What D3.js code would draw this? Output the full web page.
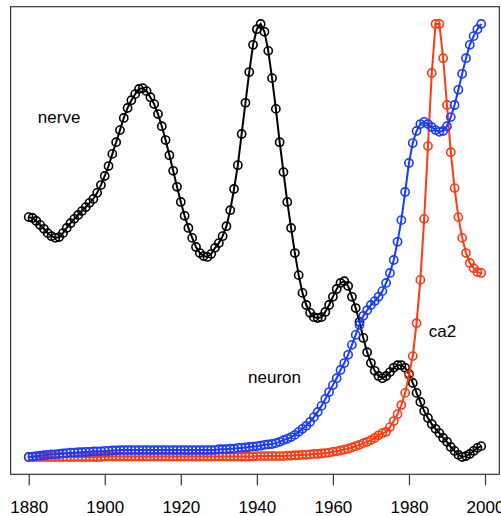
<!DOCTYPE html>
<html>
<head>
<meta charset="utf-8">
<script src="https://cdn.jsdelivr.net/npm/d3@7"></script>
<style>
  html, body { margin: 0; padding: 0; background: #fff; }
  svg { display: block; }
  text { font-family: "Liberation Sans", Arial, Helvetica, sans-serif; }
</style>
</head>
<body>
<svg id="chart" width="501" height="516"></svg>
<script>
// ---- data (normalized to each series' maximum) ----
const years = d3.range(1880, 2000);
const tickYears = [1880, 1900, 1920, 1940, 1960, 1980, 2000];

const nerve = [
  0.554, 0.552, 0.545, 0.536, 0.527, 0.517, 0.510, 0.506, 0.508, 0.517,
  0.529, 0.540, 0.550, 0.559, 0.568, 0.577, 0.587, 0.596, 0.610, 0.628,
  0.649, 0.672, 0.700, 0.727, 0.755, 0.783, 0.806, 0.824, 0.838, 0.850,
  0.852, 0.845, 0.831, 0.815, 0.792, 0.764, 0.732, 0.697, 0.661, 0.624,
  0.589, 0.557, 0.529, 0.506, 0.485, 0.471, 0.464, 0.462, 0.469, 0.483,
  0.494, 0.510, 0.533, 0.570, 0.619, 0.674, 0.746, 0.818, 0.889, 0.952,
  0.988, 1.000, 0.982, 0.938, 0.875, 0.804, 0.727, 0.658, 0.589, 0.529,
  0.471, 0.420, 0.379, 0.351, 0.333, 0.323, 0.321, 0.323, 0.335, 0.351,
  0.370, 0.388, 0.402, 0.406, 0.395, 0.370, 0.344, 0.312, 0.275, 0.242,
  0.217, 0.199, 0.187, 0.182, 0.187, 0.196, 0.206, 0.212, 0.212, 0.206,
  0.192, 0.171, 0.148, 0.127, 0.106, 0.090, 0.076, 0.065, 0.055, 0.044,
  0.035, 0.023, 0.014, 0.005, 0.000, 0.002, 0.007, 0.014, 0.021, 0.025
];

const neuron = [
  0.000, 0.001, 0.002, 0.003, 0.004, 0.005, 0.006, 0.006, 0.007, 0.008,
  0.009, 0.010, 0.010, 0.011, 0.011, 0.012, 0.012, 0.013, 0.013, 0.013,
  0.014, 0.014, 0.015, 0.015, 0.016, 0.016, 0.016, 0.016, 0.016, 0.016,
  0.016, 0.016, 0.016, 0.016, 0.016, 0.016, 0.016, 0.016, 0.016, 0.016,
  0.016, 0.016, 0.016, 0.016, 0.016, 0.016, 0.016, 0.016, 0.016, 0.016,
  0.018, 0.018, 0.018, 0.019, 0.019, 0.021, 0.021, 0.022, 0.023, 0.024,
  0.025, 0.026, 0.028, 0.029, 0.030, 0.032, 0.035, 0.039, 0.042, 0.046,
  0.051, 0.058, 0.065, 0.072, 0.081, 0.092, 0.104, 0.118, 0.134, 0.150,
  0.166, 0.182, 0.201, 0.217, 0.236, 0.259, 0.282, 0.305, 0.326, 0.339,
  0.351, 0.360, 0.370, 0.383, 0.402, 0.425, 0.455, 0.497, 0.547, 0.612,
  0.679, 0.725, 0.753, 0.769, 0.774, 0.769, 0.762, 0.755, 0.751, 0.753,
  0.764, 0.785, 0.813, 0.848, 0.885, 0.921, 0.952, 0.972, 0.988, 1.000
];

const ca2 = [
  0.000, 0.000, 0.000, 0.000, 0.000, 0.000, 0.000, 0.000, 0.000, 0.000,
  0.000, 0.000, 0.000, 0.000, 0.000, 0.000, 0.000, 0.000, 0.000, 0.000,
  0.001, 0.001, 0.001, 0.001, 0.001, 0.001, 0.001, 0.001, 0.001, 0.001,
  0.001, 0.001, 0.001, 0.001, 0.001, 0.001, 0.001, 0.001, 0.001, 0.001,
  0.001, 0.001, 0.001, 0.001, 0.001, 0.001, 0.001, 0.001, 0.001, 0.001,
  0.001, 0.001, 0.001, 0.001, 0.001, 0.001, 0.001, 0.001, 0.001, 0.001,
  0.002, 0.002, 0.002, 0.002, 0.002, 0.002, 0.002, 0.002, 0.003, 0.003,
  0.004, 0.004, 0.005, 0.005, 0.006, 0.007, 0.007, 0.008, 0.009, 0.010,
  0.012, 0.013, 0.015, 0.017, 0.019, 0.022, 0.025, 0.028, 0.032, 0.035,
  0.039, 0.044, 0.050, 0.055, 0.058, 0.069, 0.083, 0.099, 0.120, 0.148,
  0.189, 0.233, 0.309, 0.409, 0.550, 0.718, 0.887, 1.000, 1.000, 0.921,
  0.813, 0.704, 0.621, 0.554, 0.506, 0.471, 0.448, 0.436, 0.427, 0.425
];

const seriesNames = ["nerve", "ca2", "neuron"];
const seriesValues = [nerve, ca2, neuron];
const seriesColors = ["#000000", "#ff3a12", "#1a3cff"];
const labelText = ["nerve", "ca2", "neuron"];

// ---- layout ----
const box = { left: 10.6, right: 499.3, top: 6.7, bottom: 474.3 };
const svg = d3.select("#chart");

const xPad = (1999 - 1880) * 0.04;
const x = d3.scaleLinear()
  .domain([1880 - xPad, 1999 + xPad])
  .range([box.left, box.right]);
const y = d3.scaleLinear()
  .domain([-0.04, 1.04])
  .range([box.bottom, box.top]);

// series
const line = d3.line().x(d => x(d[0])).y(d => y(d[1]));
seriesValues.forEach((vals, i) => {
  const pts = years.map((yr, k) => [yr, vals[k]]);
  const g = svg.append("g").attr("class", "series-" + seriesNames[i]);
  g.append("path")
    .datum(pts)
    .attr("d", line)
    .attr("fill", "none")
    .attr("stroke", seriesColors[i])
    .attr("stroke-width", 2);
  g.selectAll("circle")
    .data(pts)
    .join("circle")
    .attr("cx", d => x(d[0]))
    .attr("cy", d => y(d[1]))
    .attr("r", 4.1)
    .attr("fill", "none")
    .attr("stroke", seriesColors[i])
    .attr("stroke-width", 1.6);
});

// box
svg.append("rect")
  .attr("x", box.left).attr("y", box.top)
  .attr("width", box.right - box.left).attr("height", box.bottom - box.top)
  .attr("fill", "none").attr("stroke", "#333").attr("stroke-width", 1.2);

// x axis
const axis = d3.axisBottom(x).tickValues(tickYears).tickFormat(d3.format("d"))
  .tickSize(11).tickPadding(16);
const ax = svg.append("g").attr("transform", `translate(0,${box.bottom})`).call(axis);
ax.select(".domain").remove();
ax.selectAll(".tick line").attr("stroke", "#333").attr("stroke-width", 1.2);
ax.selectAll(".tick text")
  .attr("fill", "#000")
  .style("font-size", "17px")
  .style("font-family", "'Liberation Sans', Arial, Helvetica, sans-serif");

// labels
const labelPos = [
  { year: 1882.4, v: 0.785 },
  { year: 1985.2, v: 0.292 },
  { year: 1937.7, v: 0.184 }
];
labelText.forEach((t, i) => {
  svg.append("text")
    .attr("x", x(labelPos[i].year))
    .attr("y", y(labelPos[i].v))
    .attr("dy", "0.35em")
    .attr("font-size", "17px")
    .attr("fill", "#000")
    .text(t);
});
</script>
</body>
</html>
